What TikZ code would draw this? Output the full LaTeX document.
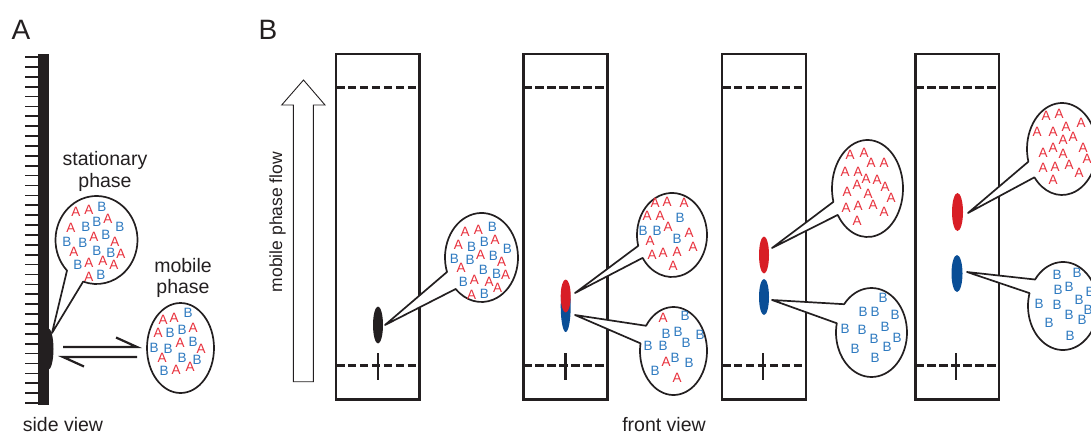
\documentclass[tikz,border=0pt]{standalone}
\usepackage{fontspec}
\setmainfont{Liberation Sans}
\usetikzlibrary{calc}

\definecolor{ink}{HTML}{231F20}
\definecolor{redA}{RGB}{232,48,60}
\definecolor{blueB}{RGB}{46,122,192}
\definecolor{spotred}{RGB}{216,30,38}
\definecolor{spotblue}{RGB}{10,78,150}

\tikzset{
  lbl/.style={font=\fontsize{19.5}{22}\selectfont, text=ink, inner sep=0pt, anchor=base},
  paneltag/.style={font=\fontsize{28}{30}\selectfont, text=ink, inner sep=0pt},
  la/.style={font=\fontsize{13.5}{14}\selectfont, text=redA, inner sep=0pt},
  lb/.style={la, text=blueB},
  plate/.style={draw=ink, line width=2.4pt},
  front/.style={draw=ink, line width=3pt, dash pattern=on 8.5pt off 3.45pt},
  bubble/.style={draw=ink, line width=1.7pt, fill=white, line join=round},
  harpoon/.style={draw=ink, line width=2.2pt},
}

% speech bubble: centre x, centre y, x radius, y radius,
% angle where the tail leaves, angle where it returns, tail tip
\newcommand\callout[7]{%
  \draw[bubble] ($(#1,#2)+(#5:#3 and #4)$)
    arc[start angle=#5, end angle=#6+360, x radius=#3, y radius=#4]
    -- #7 -- cycle;}

% one TLC plate: left x, right x, origin mark x
\newcommand\tlcplate[3]{%
  \draw[front] (#1,88) -- (#2,88);
  \draw[front] (#1,365) -- (#2,365);
  \draw[draw=ink, line width=2.6pt] (#3,353) -- (#3,379.5);
  \draw[plate] (#1,54) rectangle (#2,399.5);}

\begin{document}
\begin{tikzpicture}[x=1pt, y=1pt, yscale=-1]
\useasboundingbox (0,0) rectangle (1091,433);
\clip (0,0) rectangle (1091,433);

% ---------------- panel A: side view ----------------
\node[paneltag] (tagA) at (21,30) {A};

\foreach \i in {0,...,35}
  \draw[draw=ink, line width=1.7pt] (25,57+\i*9.886) -- (39,57+\i*9.886);
\fill[ink] (38,54) rectangle (49,405);
\fill[ink] (48,349) ellipse [x radius=5.5, y radius=21];

\node[lbl] (stat1) at (105,165) {stationary};
\node[lbl] (stat2) at (105,187) {phase};
\node[lbl] (mob1) at (183,272) {mobile};
\node[lbl] (mob2) at (183,293) {phase};
\node[lbl] (side) at (63,431) {side view};

\callout{96.5}{240}{41}{44}{136}{109}{(52,333)}
\foreach \x/\y in {76/212, 89/210, 71/228, 108/219, 94/237, 115/242, 74/252,
    121/254, 89/263, 103/261, 114/265, 89/277}
  \node[la] at (\x,\y) {A};
\foreach \x/\y in {102/207, 86/227, 97/222, 120/227, 67/242, 83/243, 106/235,
    97/251, 111/253, 78/265, 101/275}
  \node[lb] at (\x,\y) {B};

\draw[bubble] (180.5,348) ellipse [x radius=33.5, y radius=45];
\foreach \x/\y in {163/320, 174/318, 158/333, 193/328, 180/343, 201/349,
    162/358, 176/370, 190/367}
  \node[la] at (\x,\y) {A};
\foreach \x/\y in {188/313, 170/333, 182/330, 154/348, 168/349, 193/342,
    182/358, 197/360, 164/371}
  \node[lb] at (\x,\y) {B};

% exchange between the phases
\coordinate (eqTL) at (63,347);
\coordinate (eqTR) at (137,347);
\coordinate (eqBL) at (63,357);
\coordinate (eqBR) at (137,357);
\draw[harpoon] (eqTL) -- (eqTR) -- ++(-21,-9.5);
\draw[harpoon] (eqBR) -- (eqBL) -- ++(21,9.5);

% ---------------- panel B: front view ----------------
\node[paneltag] (tagB) at (268,30) {B};

\draw[draw=ink, line width=0.9pt, fill=white]
  (293.3,381.7) -- (293.3,105) -- (281.7,105) -- (303.5,80) -- (325,105)
  -- (313.3,105) -- (313.3,381.7) -- cycle;
\node[font=\fontsize{17.5}{20}\selectfont, text=ink, inner sep=0pt, rotate=90]
  (flow) at (277.5,222) {mobile phase flow};

\node[lbl] (front) at (664,431) {front view};

\tlcplate{336}{419.5}{378}
\tlcplate{523.5}{607.3}{565.7}
\tlcplate{722}{806}{763}
\tlcplate{915.3}{998.8}{956}

% plate 1: sample spot at the origin
\fill[ink] (378,325) ellipse [x radius=5, y radius=18.5];
\callout{481.5}{257.5}{36.5}{44.5}{161}{135}{(385,325)}
\foreach \x/\y in {465/231.7, 478.3/230, 458.3/245, 495/240, 480.7/255,
    501.7/261.7, 461/268.3, 505.7/275, 474.3/280, 489/281.7, 497.7/288.3, 471.7/295}
  \node[la] at (\x,\y) {A};
\foreach \x/\y in {492.3/227.3, 471.7/246.7, 484.3/241.7, 507.3/249.3, 454.3/259.3,
    470/260, 493.3/256, 483.3/270, 496.7/274, 463.3/281.7, 484.3/294}
  \node[lb] at (\x,\y) {B};

% plate 2: spot starting to separate
\fill[spotblue] (565.7,306) ellipse [x radius=5, y radius=26];
\fill[spotred] (565.7,296) ellipse [x radius=5, y radius=16.5];
\callout{672}{235}{35}{42}{165}{147}{(575,293)}
\foreach \x/\y in {655/203, 667/202, 684/203, 647/216, 660/216, 668/227,
    689/233, 693/247, 650/241, 652/255, 663/253, 677/252, 673/266}
  \node[la] at (\x,\y) {A};
\foreach \x/\y in {680/218, 643/231, 657/231, 677/239}
  \node[lb] at (\x,\y) {B};
\callout{673.5}{351}{33.5}{44}{215}{190}{(575,315)}
\foreach \x/\y in {663/318, 666/362, 677/378}
  \node[la] at (\x,\y) {A};
\foreach \x/\y in {685/316, 666/334, 678/332, 700/335, 648/346, 663/346,
    686/343, 675/358, 689/363, 655/371}
  \node[lb] at (\x,\y) {B};

% plate 3: two separate spots
\fill[spotred] (764,255) ellipse [x radius=5, y radius=18.5];
\fill[spotblue] (764,297) ellipse [x radius=5, y radius=18];
\callout{867.5}{188.5}{35.5}{48.5}{164}{147}{(772,248)}
\foreach \x/\y in {850/155, 864/153, 845/172, 858/172, 871/163, 884/163,
    866/179, 877/180, 847/192, 857/185, 868/194, 885/187, 891/198,
    846/208, 858/206, 873/205, 884/212, 857/221}
  \node[la] at (\x,\y) {A};
\callout{871.5}{332.5}{35.5}{44.5}{219.5}{192}{(772,300)}
\foreach \x/\y in {883/298, 863/312, 875/312, 895/315, 845/329, 862/330,
    885/327, 874/339, 897/338, 887/347, 855/349, 875/358}
  \node[lb] at (\x,\y) {B};

% plate 4: spots far apart
\fill[spotred] (957.5,212) ellipse [x radius=5.5, y radius=19];
\fill[spotblue] (957,273.5) ellipse [x radius=5.5, y radius=18.5];
\callout{1062}{149}{35}{46}{164}{142}{(968,213)}
\foreach \x/\y in {1046/116, 1059/114, 1081/123, 1037/132, 1053/132, 1066/127,
    1073/137, 1063/140, 1083/148, 1043/153, 1053/148, 1063/154, 1087/159,
    1043/168, 1055/167, 1069/165, 1079/173, 1053/180}
  \node[la] at (\x,\y) {A};
\callout{1063}{306}{35}{44}{217}{197}{(967,272)}
\foreach \x/\y in {1057/275, 1077/273, 1058/290, 1069/287, 1079/300, 1090/292,
    1039/304, 1057/305, 1069/315, 1082/320, 1088/310, 1049/323, 1070/336}
  \node[lb] at (\x,\y) {B};

\end{tikzpicture}
\end{document}
